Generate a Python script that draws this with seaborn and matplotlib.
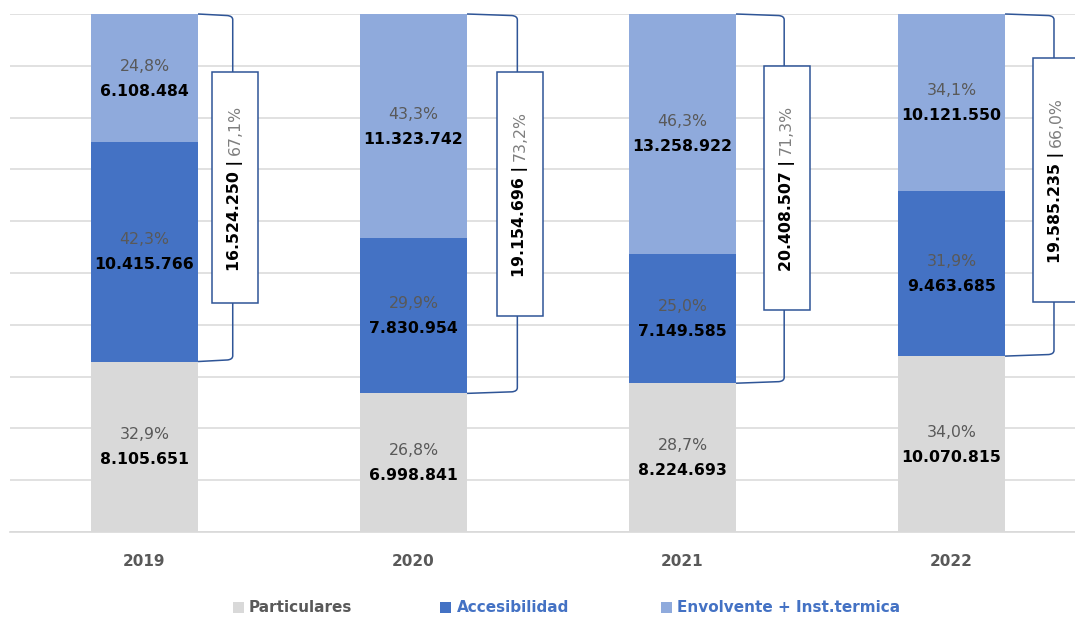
import numpy as np
import pandas as pd
import matplotlib
matplotlib.use("Agg")
import matplotlib.pyplot as plt
from matplotlib.patches import Rectangle, PathPatch
from matplotlib.path import Path
import seaborn as sns

# ---- data -------------------------------------------------------------
years = ["2019", "2020", "2021", "2022"]
particulares = [8105651, 6998841, 8224693, 10070815]
accesibilidad = [10415766, 7830954, 7149585, 9463685]
envolvente = [6108484, 11323742, 13258922, 10121550]
series_names = ["Particulares", "Accesibilidad", "Envolvente + Inst.termica"]

# ---- style ------------------------------------------------------------
colors = {
    "Particulares": "#d9d9d9",
    "Accesibilidad": "#4472c4",
    "Envolvente + Inst.termica": "#8faadc",
}
legend_text_colors = {
    "Particulares": "#595959",
    "Accesibilidad": "#4472c4",
    "Envolvente + Inst.termica": "#4472c4",
}
GRAY_TXT = "#595959"
BRACKET = "#2f5597"
FS = 11.3

sns.set_theme(style="white")
plt.rcParams["font.family"] = ["DejaVu Sans"]

df = pd.DataFrame({
    "year": years,
    "Particulares": particulares,
    "Accesibilidad": accesibilidad,
    "Envolvente + Inst.termica": envolvente,
})
values = df[series_names]
total = values.sum(axis=1)
shares = values.div(total, axis=0)
tops = shares.cumsum(axis=1)
bottoms = tops - shares


def fmt_int(v):
    return f"{int(v):,}".replace(",", ".")


def fmt_pct(p):
    return f"{p * 100:.1f}".replace(".", ",") + "%"


W, H = 1075, 617
fig = plt.figure(figsize=(W / 100, H / 100), dpi=100)
ax = fig.add_axes([10 / W, (H - 532) / H, 1076 / W, 518 / H])

BAR_W = 0.398
# stacked bars: draw cumulative heights from the tallest layer down
for name in reversed(series_names):
    sns.barplot(x=df["year"], y=tops[name], color=colors[name], width=BAR_W,
                saturation=1, linewidth=0, errorbar=None, ax=ax, zorder=2)

ax.set_xlim(-0.5, 3.5)
ax.set_ylim(0, 1)
ax.set_xlabel("")
ax.set_ylabel("")
ax.set_yticks(np.arange(0, 1.001, 0.1))
ax.tick_params(axis="y", length=0, labelleft=False)
ax.tick_params(axis="x", length=0, pad=16, labelsize=11, labelcolor=GRAY_TXT)
for lbl in ax.get_xticklabels():
    lbl.set_fontweight("bold")
ax.grid(axis="y", color="#d9d9d9", lw=1.1, zorder=0)
ax.set_axisbelow(True)
for side in ["left", "right", "top"]:
    ax.spines[side].set_visible(False)
ax.spines["bottom"].set_color("#d9d9d9")
ax.spines["bottom"].set_linewidth(1.2)

# segment labels: share on top, absolute value (bold) below
for i in range(len(years)):
    for name in series_names:
        yc = bottoms.loc[i, name] + shares.loc[i, name] / 2
        ax.annotate(fmt_pct(shares.loc[i, name]), (i, yc), xytext=(0, 12),
                    textcoords="offset pixels", ha="center", va="center",
                    color=GRAY_TXT, fontsize=FS, zorder=5)
        ax.annotate(fmt_int(values.loc[i, name]), (i, yc), xytext=(0, -13),
                    textcoords="offset pixels", ha="center", va="center",
                    color="black", fontsize=FS, fontweight="bold", zorder=5)

# brackets grouping Accesibilidad + Envolvente
X_EDGE = BAR_W / 2
bracket_x = [0.328, 0.386, 0.378, 0.381]      # vertical stroke, from bar centre
box_nudge_px = [0, 10, 11, 5]                 # box lift above the span centre
box_h_px = [231, 244, 244, 244]
RX, RY = 0.02, 0.011
BOX_W = 0.171
PX_Y = 1 / 518
fig.canvas.draw()
renderer = fig.canvas.get_renderer()
for i in range(len(years)):
    top = 1.0
    bot = tops.loc[i, "Particulares"]
    x0 = i + X_EDGE
    xv = i + bracket_x[i]
    verts = [
        (x0, top), (xv - RX, top - 0.003),
        (xv, top - 0.004), (xv, top - RY),
        (xv, bot + RY),
        (xv, bot + 0.004), (xv - RX, bot + 0.003),
        (x0, bot),
    ]
    codes = [Path.MOVETO, Path.LINETO, Path.CURVE3, Path.CURVE3, Path.LINETO,
             Path.CURVE3, Path.CURVE3, Path.LINETO]
    ax.add_patch(PathPatch(Path(verts, codes), fc="none", ec=BRACKET, lw=1.1,
                           clip_on=False, zorder=3))

    xc = xv + 0.009
    yc = (top + bot) / 2 + box_nudge_px[i] * PX_Y
    bh = box_h_px[i] * PX_Y
    ax.add_patch(Rectangle((xc - BOX_W / 2, yc - bh / 2), BOX_W, bh,
                           fc="white", ec=BRACKET, lw=1.1, clip_on=False, zorder=4))

    group_val = values.loc[i, "Accesibilidad"] + values.loc[i, "Envolvente + Inst.termica"]
    group_share = shares.loc[i, "Accesibilidad"] + shares.loc[i, "Envolvente + Inst.termica"]
    t1 = ax.text(xc, yc, fmt_int(group_val) + " |", rotation=90, ha="center",
                 va="center", fontsize=FS, fontweight="bold", color="black",
                 zorder=6, clip_on=False)
    t2 = ax.text(xc, yc, fmt_pct(group_share), rotation=90, ha="center",
                 va="center", fontsize=FS, color="#7f7f7f", zorder=6, clip_on=False)
    h1 = t1.get_window_extent(renderer).height
    h2 = t2.get_window_extent(renderer).height
    gap = 5
    tot = h1 + gap + h2
    cx, cy = ax.transData.transform((xc, yc))
    inv = ax.transData.inverted()
    t1.set_position(inv.transform((cx, cy - tot / 2 + h1 / 2)))
    t2.set_position(inv.transform((cx, cy + tot / 2 - h2 / 2)))

# legend
legend_items = [(233, 249), (440, 457), (661, 677)]
for name, (sx, tx) in zip(series_names, legend_items):
    fig.patches.append(Rectangle((sx / W, 1 - 613 / H), 11 / W, 11 / H,
                                 transform=fig.transFigure, fc=colors[name],
                                 ec="none"))
    fig.text(tx / W, 1 - 607 / H, name, ha="left", va="center", fontsize=11,
             fontweight="bold", color=legend_text_colors[name])

fig.savefig("out.png", dpi=100)
